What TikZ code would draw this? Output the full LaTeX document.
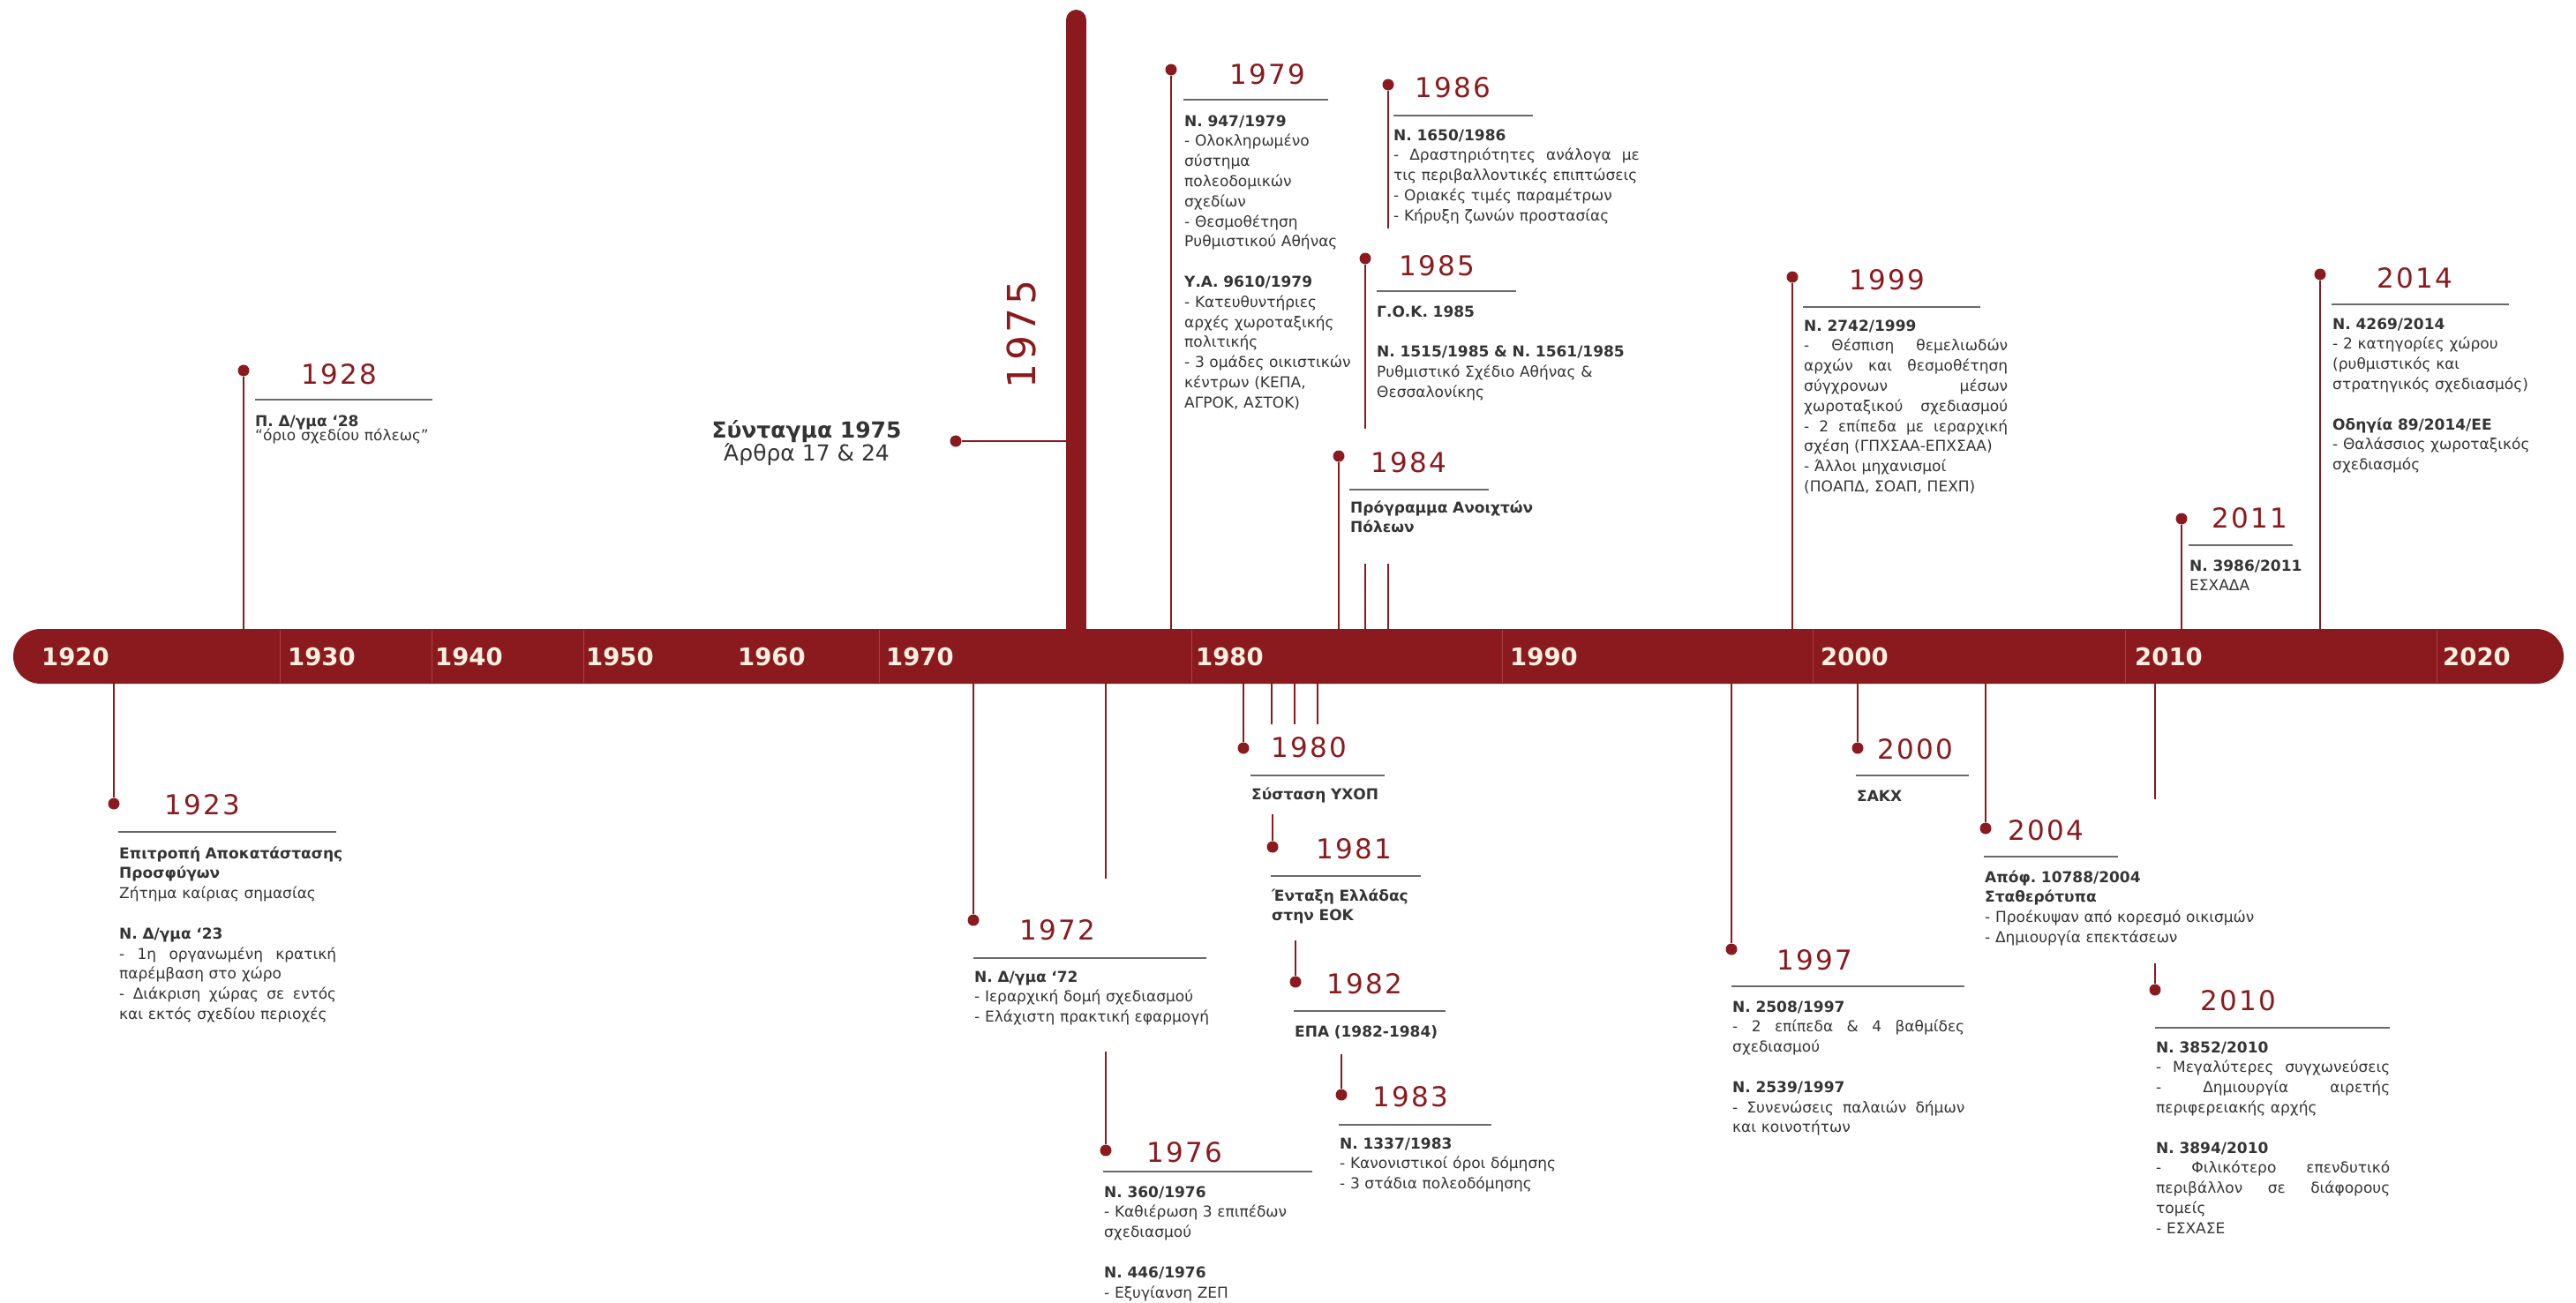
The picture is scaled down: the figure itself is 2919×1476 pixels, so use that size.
\documentclass[tikz,border=0pt]{standalone}
\usepackage{fontspec}
\setmainfont{DejaVu Sans}
\newfontfamily\yearfont[LetterSpace=8]{DejaVu Sans}
\usetikzlibrary{shapes.misc}
\definecolor{brick}{RGB}{139,26,30}
\definecolor{tickred}{RGB}{168,64,66}
\definecolor{textgray}{RGB}{52,52,52}
\definecolor{rulegray}{RGB}{105,105,105}
\definecolor{cream}{RGB}{250,240,224}
\frenchspacing
\newcommand\jl[1]{\makebox[\linewidth][s]{\spaceskip=\fontdimen2\font plus 1fil\relax #1}}
\newlength\widesix
\settowidth\widesix{\fontsize{17}{22.8}\selectfont τις περιβαλλοντικές επιπτώσεις}
\addtolength\widesix{3pt}
\tikzset{
  dot/.style={circle, fill=brick, inner sep=0pt, minimum size=13pt},
  stem/.style={draw=brick, line width=2.6pt},
  year/.style={anchor=base west, inner sep=0pt, text=brick, font=\yearfont\fontsize{31}{31}\selectfont},
  sepline/.style={draw=rulegray, line width=1.6pt},
  info/.style={anchor=base west, inner sep=0pt, text=textgray, align=left, text width=#1, font=\fontsize{17}{22.8}\selectfont\frenchspacing},
  info/.default=260pt,
  decade/.style={anchor=base west, inner sep=0pt, text=cream, font=\bfseries\fontsize{27.5}{27.5}\selectfont},
  tick/.style={draw=tickred, line width=1pt},
}
\begin{document}
\begin{tikzpicture}[x=1pt, y=-1pt]
  \useasboundingbox (0,0) rectangle (2919,1476);
  % 1975 pillar and bar
  \draw[brick, line width=23pt, line cap=round] (1219.5,22.5) -- (1219.5,713);
  \node[rounded rectangle, fill=brick, minimum width=2890pt, minimum height=62pt, inner sep=0pt] (bar) at (1460,744) {};
  \foreach \x in {317,489,661,996,1350,1702,2054,2408,2761}
    \draw[tick] (\x,714) -- (\x,774);
  \foreach \x/\d in {47/1920,326/1930,493/1940,664/1950,836/1960,1004/1970,1355/1980,1711/1990,2063/2000,2419/2010,2768/2020}
    \node[decade] (dec\d) at (\x,754) {\d};

  % dots
  \node[dot] (d23) at (129,911) {};
  \node[dot] (d28) at (276,420) {};
  \node[dot] (d72) at (1103,1043) {};
  \node[dot] (d75) at (1083,500) {};
  \node[dot] (d76) at (1253,1304) {};
  \node[dot] (d79) at (1327,79) {};
  \node[dot] (d80) at (1409,848) {};
  \node[dot] (d81) at (1442,960) {};
  \node[dot] (d82) at (1468,1113) {};
  \node[dot] (d83) at (1520,1241) {};
  \node[dot] (d84) at (1517,517) {};
  \node[dot] (d85) at (1547,293) {};
  \node[dot] (d86) at (1573,96) {};
  \node[dot] (d97) at (1962,1076) {};
  \node[dot] (d99) at (2031,314) {};
  \node[dot] (d00) at (2105,848) {};
  \node[dot] (d04) at (2250,939) {};
  \node[dot] (d10) at (2442,1122) {};
  \node[dot] (d11) at (2472,588) {};
  \node[dot] (d14) at (2629,311) {};

  % broken stems
  \coordinate (s76a) at (1253,996);
  \coordinate (s76b) at (1253,1192);
  \coordinate (s81a) at (1441,821);
  \coordinate (s81b) at (1442,923);
  \coordinate (s82a) at (1467,821);
  \coordinate (s82b) at (1468,1066);
  \coordinate (s83a) at (1493,821);
  \coordinate (s83b) at (1520,1195);
  \coordinate (s85a) at (1547,486);
  \coordinate (s85b) at (1547,639);
  \coordinate (s86a) at (1573,259);
  \coordinate (s86b) at (1573,639);
  \coordinate (s10a) at (2442,906);
  \coordinate (s10b) at (2442,1092);
  \coordinate (c75) at (1212,500);

  \draw[stem] (d23) -- (d23 |- bar.south);
  \draw[stem] (d28) -- (d28 |- bar.north);
  \draw[stem] (d72) -- (d72 |- bar.south);
  \draw[stem, line width=2pt] (d75) -- (c75);
  \draw[stem] (s76a |- bar.south) -- (s76a);
  \draw[stem] (s76b) -- (d76);
  \draw[stem] (d79) -- (d79 |- bar.north);
  \draw[stem] (d80) -- (d80 |- bar.south);
  \draw[stem] (s81a |- bar.south) -- (s81a);
  \draw[stem] (s81b) -- (d81);
  \draw[stem] (s82a |- bar.south) -- (s82a);
  \draw[stem] (s82b) -- (d82);
  \draw[stem] (s83a |- bar.south) -- (s83a);
  \draw[stem] (s83b) -- (d83);
  \draw[stem] (d84) -- (d84 |- bar.north);
  \draw[stem] (d85) -- (s85a);
  \draw[stem] (s85b) -- (s85b |- bar.north);
  \draw[stem] (d86) -- (s86a);
  \draw[stem] (s86b) -- (s86b |- bar.north);
  \draw[stem] (d97) -- (d97 |- bar.south);
  \draw[stem] (d99) -- (d99 |- bar.north);
  \draw[stem] (d00) -- (d00 |- bar.south);
  \draw[stem] (d04) -- (d04 |- bar.south);
  \draw[stem] (s10a |- bar.south) -- (s10a);
  \draw[stem] (s10b) -- (d10);
  \draw[stem] (d11) -- (d11 |- bar.north);
  \draw[stem] (d14) -- (d14 |- bar.north);

  % years
  \node[year] (y23) at (186,923) {1923};
  \node[year] (y28) at (341,435) {1928};
  \node[year] (y72) at (1155,1065) {1972};
  \node[year] (y76) at (1299,1317) {1976};
  \node[year] (y79) at (1393,95) {1979};
  \node[year] (y80) at (1440,858) {1980};
  \node[year] (y81) at (1491,973) {1981};
  \node[year] (y82) at (1503,1126) {1982};
  \node[year] (y83) at (1555,1254) {1983};
  \node[year] (y84) at (1553,535) {1984};
  \node[year] (y85) at (1585,312) {1985};
  \node[year] (y86) at (1603,110) {1986};
  \node[year] (y97) at (2013,1099) {1997};
  \node[year] (y99) at (2095,328) {1999};
  \node[year] (y00) at (2127,860) {2000};
  \node[year] (y04) at (2275,952) {2004};
  \node[year] (y10) at (2493,1145) {2010};
  \node[year] (y11) at (2506,598) {2011};
  \node[year] (y14) at (2693,326) {2014};
  \node[year, anchor=center, rotate=90, font=\yearfont\fontsize{44}{44}\selectfont] (y75) at (1157,379) {1975};

  % rules
  \draw[sepline] (134,943) -- (381,943);
  \draw[sepline] (289,453) -- (490,453);
  \draw[sepline] (1103,1086) -- (1367,1086);
  \draw[sepline] (1250,1328) -- (1487,1328);
  \draw[sepline] (1341,113) -- (1505,113);
  \draw[sepline] (1417,879) -- (1569,879);
  \draw[sepline] (1440,993) -- (1610,993);
  \draw[sepline] (1466,1146) -- (1638,1146);
  \draw[sepline] (1517,1275) -- (1690,1275);
  \draw[sepline] (1529,555) -- (1687,555);
  \draw[sepline] (1560,330) -- (1718,330);
  \draw[sepline] (1579,131) -- (1737,131);
  \draw[sepline] (1962,1118) -- (2226,1118);
  \draw[sepline] (2043,348) -- (2244,348);
  \draw[sepline] (2103,879) -- (2231,879);
  \draw[sepline] (2248,971) -- (2400,971);
  \draw[sepline] (2442,1165) -- (2708,1165);
  \draw[sepline] (2480,618) -- (2598,618);
  \draw[sepline] (2642,345) -- (2843,345);

  % texts
  \node[info=246pt] (t23) at (135,973) {\jl{\textbf{Επιτροπή Αποκατάστασης}}\\
    \textbf{Προσφύγων}\\
    Ζήτημα καίριας σημασίας\\[22.8pt]
    \textbf{Ν. Δ/γμα ‘23}\\
    \jl{- 1η οργανωμένη κρατική}\\
    παρέμβαση στο χώρο\\
    \jl{- Διάκριση χώρας σε εντός}\\
    και εκτός σχεδίου περιοχές};
  \node[info=230pt] (t28) at (289,483) {\textbf{Π. Δ/γμα ‘28}\\[-6pt]
    “όριο σχεδίου πόλεως”};
  \node[text=textgray, anchor=base, inner sep=0pt, font=\bfseries\fontsize{25}{25}\selectfont] (syn) at (914,496) {Σύνταγμα 1975};
  \node[text=textgray, anchor=base, inner sep=0pt, font=\fontsize{25}{25}\selectfont] (art) at (914,522) {Άρθρα 17 \& 24};
  \node[info=290pt] (t72) at (1104,1113) {\textbf{Ν. Δ/γμα ‘72}\\
    - Ιεραρχική δομή σχεδιασμού\\
    - Ελάχιστη πρακτική εφαρμογή};
  \node[info=250pt] (t76) at (1251,1357) {\textbf{Ν. 360/1976}\\
    - Καθιέρωση 3 επιπέδων\\
    σχεδιασμού\\[22.8pt]
    \textbf{Ν. 446/1976}\\
    - Εξυγίανση ΖΕΠ};
  \node[info=200pt] (t79) at (1342,143) {\textbf{Ν. 947/1979}\\
    - Ολοκληρωμένο\\
    σύστημα\\
    πολεοδομικών\\
    σχεδίων\\
    - Θεσμοθέτηση\\
    Ρυθμιστικού Αθήνας\\[22.8pt]
    \textbf{Υ.Α. 9610/1979}\\
    - Κατευθυντήριες\\
    αρχές χωροταξικής\\
    πολιτικής\\
    - 3 ομάδες οικιστικών\\
    κέντρων (ΚΕΠΑ,\\
    ΑΓΡΟΚ, ΑΣΤΟΚ)};
  \node[info=200pt] (t80) at (1418,906) {\textbf{Σύσταση ΥΧΟΠ}};
  \node[info=200pt] (t81) at (1441,1021) {\textbf{Ένταξη Ελλάδας}\\
    \textbf{στην ΕΟΚ}};
  \node[info=200pt] (t82) at (1467,1175) {\textbf{ΕΠΑ (1982-1984)}};
  \node[info=260pt] (t83) at (1518,1302) {\textbf{Ν. 1337/1983}\\
    - Κανονιστικοί όροι δόμησης\\
    - 3 στάδια πολεοδόμησης};
  \node[info=220pt] (t84) at (1530,581) {\textbf{Πρόγραμμα Ανοιχτών}\\
    \textbf{Πόλεων}};
  \node[info=320pt] (t85) at (1560,359) {\textbf{Γ.Ο.Κ. 1985}\\[22.8pt]
    \textbf{Ν. 1515/1985 \& Ν. 1561/1985}\\
    Ρυθμιστικό Σχέδιο Αθήνας \&\\
    Θεσσαλονίκης};
  \node[info=\widesix] (t86) at (1579,159) {\textbf{Ν. 1650/1986}\\
    \jl{- Δραστηριότητες ανάλογα με}\\
    τις περιβαλλοντικές επιπτώσεις\\
    - Οριακές τιμές παραμέτρων\\
    - Κήρυξη ζωνών προστασίας};
  \node[info=263pt] (t97) at (1963,1147) {\textbf{Ν. 2508/1997}\\
    \jl{- 2 επίπεδα \& 4 βαθμίδες}\\
    σχεδιασμού\\[22.8pt]
    \textbf{Ν. 2539/1997}\\
    \jl{- Συνενώσεις παλαιών δήμων}\\
    και κοινοτήτων};
  \node[info=231pt] (t99) at (2044,375) {\textbf{Ν. 2742/1999}\\
    \jl{- Θέσπιση θεμελιωδών}\\
    \jl{αρχών και θεσμοθέτηση}\\
    \jl{σύγχρονων μέσων}\\
    \jl{χωροταξικού σχεδιασμού}\\
    \jl{- 2 επίπεδα με ιεραρχική}\\
    σχέση (ΓΠΧΣΑΑ-ΕΠΧΣΑΑ)\\
    - Άλλοι μηχανισμοί\\
    (ΠΟΑΠΔ, ΣΟΑΠ, ΠΕΧΠ)};
  \node[info=200pt] (t00) at (2104,908) {\textbf{ΣΑΚΧ}};
  \node[info=330pt] (t04) at (2249,1000) {\textbf{Απόφ. 10788/2004}\\
    \textbf{Σταθερότυπα}\\
    - Προέκυψαν από κορεσμό οικισμών\\
    - Δημιουργία επεκτάσεων};
  \node[info=265pt] (t10) at (2443,1193) {\textbf{Ν. 3852/2010}\\
    \jl{- Μεγαλύτερες συγχωνεύσεις}\\
    \jl{- Δημιουργία αιρετής}\\
    περιφερειακής αρχής\\[22.8pt]
    \textbf{Ν. 3894/2010}\\
    \jl{- Φιλικότερο επενδυτικό}\\
    \jl{περιβάλλον σε διάφορους}\\
    τομείς\\
    - ΕΣΧΑΣΕ};
  \node[info=200pt] (t11) at (2481,647) {\textbf{Ν. 3986/2011}\\
    ΕΣΧΑΔΑ};
  \node[info=250pt] (t14) at (2643,373) {\textbf{Ν. 4269/2014}\\
    - 2 κατηγορίες χώρου\\
    (ρυθμιστικός και\\
    στρατηγικός σχεδιασμός)\\[22.8pt]
    \textbf{Οδηγία 89/2014/ΕΕ}\\
    - Θαλάσσιος χωροταξικός\\
    σχεδιασμός};
\end{tikzpicture}
\end{document}
